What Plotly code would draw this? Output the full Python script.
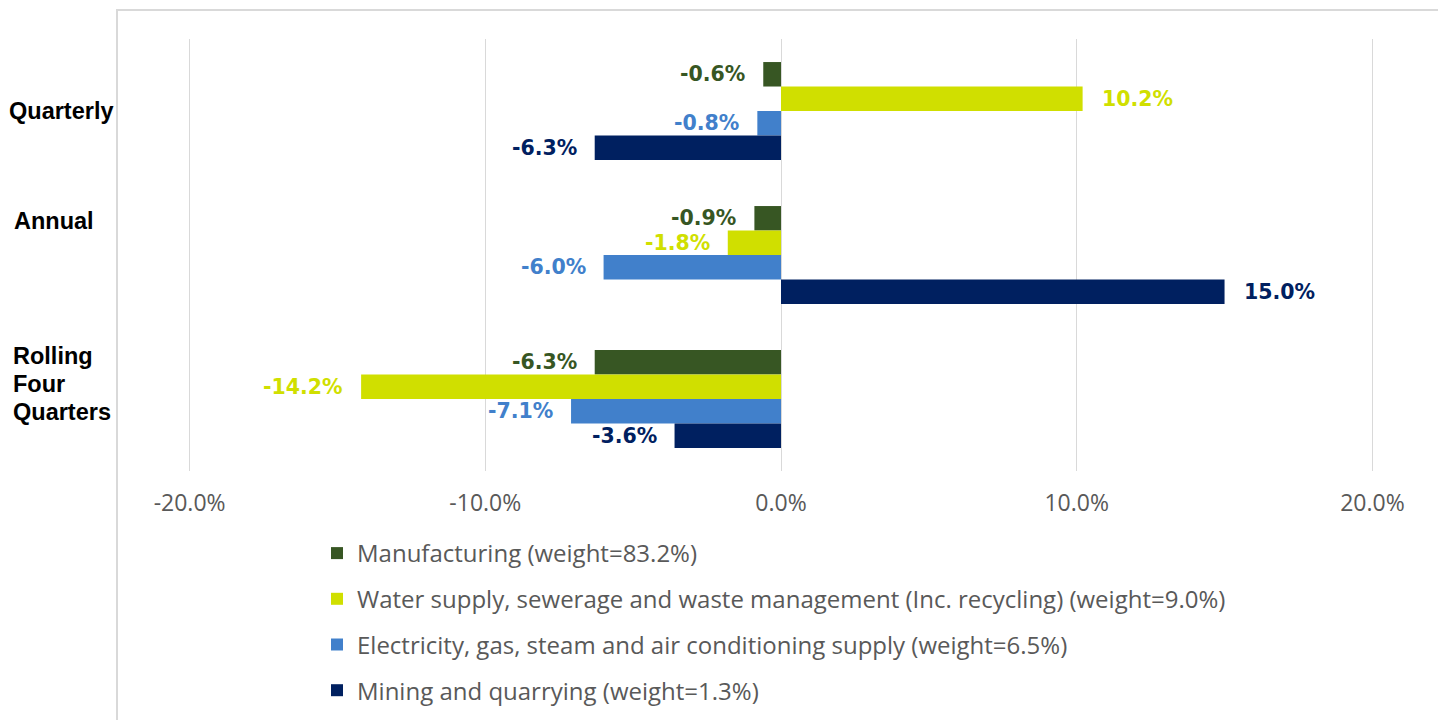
import plotly.graph_objects as go

categories = ["Quarterly", "Annual", "Rolling Four Quarters"]
series_names = [
    "Manufacturing (weight=83.2%)",
    "Water supply, sewerage and waste management (Inc. recycling) (weight=9.0%)",
    "Electricity, gas, steam and air conditioning supply (weight=6.5%)",
    "Mining and quarrying (weight=1.3%)",
]
manufacturing = [-0.6, -0.9, -6.3]
water = [10.2, -1.8, -14.2]
electricity = [-0.8, -6.0, -7.1]
mining = [-6.3, 15.0, -3.6]
series_values = [manufacturing, water, electricity, mining]
colors = ["#375623", "#d0df00", "#4180cb", "#002060"]
tick_vals = [-20, -10, 0, 10, 20]
tick_text = ["-20.0%", "-10.0%", "0.0%", "10.0%", "20.0%"]

# page has an 8px body margin; work in page pixels and convert
OFF = 8
W, H = 1446 - OFF, 720 - OFF
PL, PR, PT, PB = 150, 1410, 39, 471          # plot area in page pixels
L, R, T, B = PL - OFF, W - (PR - OFF), PT - OFF, H - (PB - OFF)
PW, PH = PR - PL, PB - PT
ZERO_X, PX_PER_UNIT = 781, 29.57


def px(x):
    return (x - PL) / PW


def py(y):
    return (PB - y) / PH


fig = go.Figure()
for i, (name, vals, col) in enumerate(zip(series_names, series_values, colors)):
    fig.add_trace(go.Bar(
        y=categories, x=vals, name=name, orientation="h",
        marker=dict(color=col, line=dict(width=0)),
        legendgroup=f"g{i}", hoverinfo="x+name",
    ))

bargap = 0.32
n = len(series_values)
bw = (1 - bargap) / n
annotations = []
for i, (vals, col) in enumerate(zip(series_values, colors)):
    off = -(1 - bargap) / 2 + bw * (i + 0.5)
    for j, v in enumerate(vals):
        annotations.append(dict(
            x=v, y=j + off, xref="x", yref="y",
            text=f"{v:.1f}%", showarrow=False,
            xanchor="left" if v >= 0 else "right",
            xshift=17 if v >= 0 else -16,
            font=dict(family="DejaVu Sans", size=20.5, color=col, weight="bold"),
        ))

# category labels placed as in the reference (one annotation per text line)
cat_labels = [
    ("Quarterly", 7, 111),
    ("Annual", 12, 221),
    ("Rolling", 11, 356),
    ("Four", 11, 384),
    ("Quarters", 11, 412),
]
for txt, x0, yc in cat_labels:
    annotations.append(dict(
        x=px(x0), y=py(yc), xref="paper", yref="paper",
        text=txt, showarrow=False, xanchor="left", yanchor="middle", align="left",
        font=dict(family="Liberation Sans", size=23.5, color="#000000", weight="bold"),
    ))

fig.update_layout(
    width=W, height=H,
    margin=dict(l=L, r=R, t=T, b=B, autoexpand=False),
    paper_bgcolor="white", plot_bgcolor="white",
    barmode="group", bargap=bargap, bargroupgap=0,
    showlegend=True,
    legend=dict(
        x=px(317), y=py(531), xanchor="left", yanchor="top",
        font=dict(family="Open Sans", size=24, color="#595959"),
        traceorder="grouped", tracegroupgap=11.5,
        bgcolor="rgba(0,0,0,0)",
    ),
    xaxis=dict(
        range=[-(ZERO_X - PL) / PX_PER_UNIT, (PR - ZERO_X) / PX_PER_UNIT],
        tickvals=tick_vals, ticktext=tick_text,
        showgrid=True, gridcolor="#d9d9d9", gridwidth=1,
        zeroline=True, zerolinecolor="#d9d9d9", zerolinewidth=1,
        showline=False, ticks="",
        tickfont=dict(family="Open Sans", size=23, color="#595959"),
        ticklabelstandoff=16,
    ),
    yaxis=dict(
        autorange="reversed", showticklabels=False, showgrid=False,
        zeroline=False, showline=False, ticks="",
    ),
    annotations=annotations,
    shapes=[dict(
        type="rect", xref="paper", yref="paper",
        x0=px(117), x1=px(1439), y0=py(740), y1=py(10),
        line=dict(color="#d9d9d9", width=2), fillcolor="rgba(0,0,0,0)", layer="below",
    )],
)

fig.write_html("out.html")
